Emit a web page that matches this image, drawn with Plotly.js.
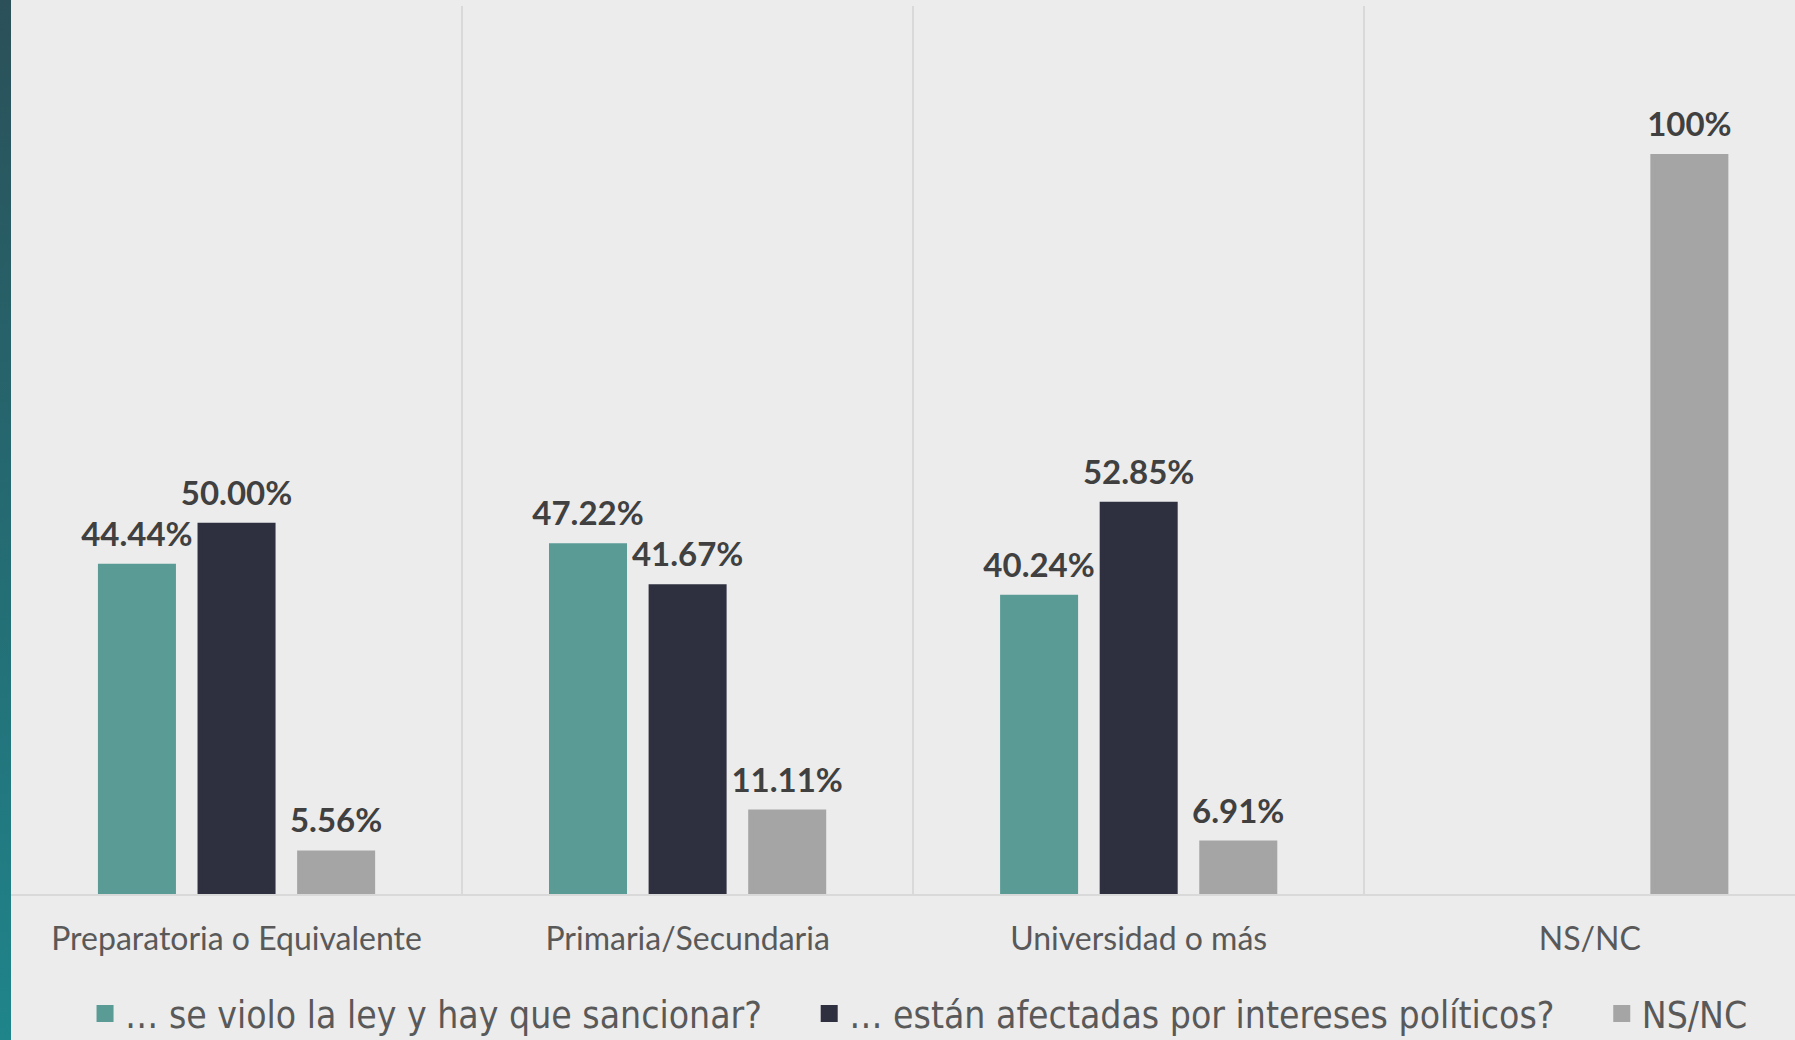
<!DOCTYPE html>
<html>
<head>
<meta charset="utf-8">
<script src="https://cdn.plot.ly/plotly-3.0.1.min.js"></script>
<style>
  html, body { margin: 0; padding: 0; background: #ececec; }
  #wrap { position: relative; width: 1795px; height: 1040px; }
  #chart { width: 1795px; height: 1040px; }
  #strip { position: absolute; left: 0; top: 0; width: 11px; height: 1040px;
           background: linear-gradient(#2b5059, #1f858b); }
</style>
</head>
<body>
<div id="wrap">
  <div id="chart"></div>
  <div id="strip"></div>
</div>
<script>
const categories = ['Preparatoria o Equivalente', 'Primaria/Secundaria', 'Universidad o más', 'NS/NC'];
const seriesNames = ['… se violo la ley y hay que sancionar?', '… están afectadas por intereses políticos?', 'NS/NC'];
const violoLey = [44.44, 47.22, 40.24, null];
const interesesPoliticos = [50.00, 41.67, 52.85, null];
const nsnc = [5.56, 11.11, 6.91, 100];
const colors = ['#5a9b96', '#2e303f', '#a5a5a5'];

function fmt(v) {
  if (v === null) return '';
  return v === 100 ? '100%' : v.toFixed(2) + '%';
}

const seriesValues = [violoLey, interesesPoliticos, nsnc];
const legendPad = '\u00a0\u00a0\u00a0\u00a0';

const traces = [];
seriesValues.forEach((vals, i) => {
  traces.push({
    type: 'bar',
    x: categories,
    y: vals,
    name: seriesNames[i] + (i < 2 ? legendPad : ''),
    offsetgroup: 'g' + i,
    marker: { color: colors[i], line: { color: colors[i], width: 5 } },
    hoverinfo: 'skip'
  });
});
seriesValues.forEach((vals, i) => {
  traces.push({
    type: 'scatter',
    mode: 'markers+text',
    x: categories,
    y: vals,
    offsetgroup: 'g' + i,
    text: vals.map(fmt),
    textposition: 'top center',
    textfont: { family: 'Lato', size: 33, color: '#404040', weight: 'bold' },
    marker: { size: 18, opacity: 0 },
    showlegend: false,
    hoverinfo: 'skip',
    cliponaxis: false
  });
});

const layout = {
  width: 1795,
  height: 1040,
  paper_bgcolor: '#ececec',
  plot_bgcolor: '#ececec',
  margin: { l: 11, r: 0, t: 6, b: 146 },
  barmode: 'group',
  bargap: 0.3376,
  bargroupgap: 0.267,
  scattermode: 'group',
  scattergap: 0.3376,
  showlegend: true,
  legend: {
    orientation: 'h',
    xref: 'container', yref: 'container',
    x: 0.512, xanchor: 'center',
    y: 0.025, yanchor: 'middle',
    font: { family: 'DejaVu Sans Condensed, Roboto Condensed, Roboto', size: 37, color: '#595959' },
    bgcolor: 'rgba(0,0,0,0)'
  },
  xaxis: {
    type: 'category',
    range: [-0.5, 3.455],
    tickson: 'boundaries',
    ticks: '',
    showgrid: true,
    gridcolor: '#d9d9d9',
    gridwidth: 1.5,
    showline: true,
    linecolor: '#d9d9d9',
    linewidth: 2,
    ticklabelstandoff: 16,
    tickfont: { family: 'Lato', size: 32, color: '#595959' },
    automargin: false,
    fixedrange: true
  },
  yaxis: {
    range: [0, 120.4],
    showticklabels: false,
    showgrid: false,
    zeroline: false,
    showline: true,
    linecolor: '#d9d9d9',
    linewidth: 1.5,
    automargin: false,
    fixedrange: true
  }
};

Plotly.newPlot('chart', traces, layout, { displayModeBar: false, staticPlot: true });
</script>
</body>
</html>
